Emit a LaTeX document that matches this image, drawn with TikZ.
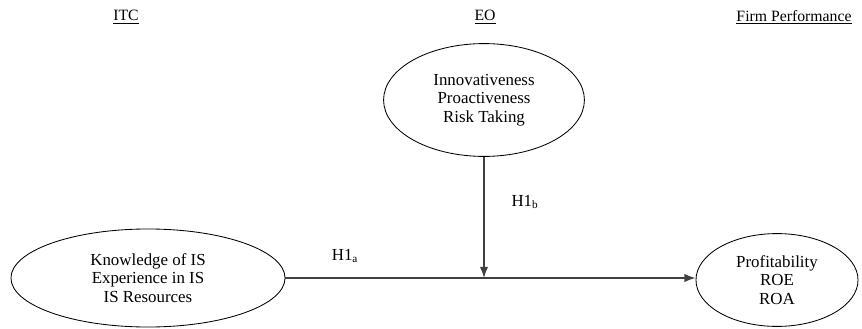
\documentclass[tikz,border=0pt]{standalone}
\usepackage{fontspec}
\setmainfont{Liberation Serif}
\usetikzlibrary{shapes.geometric,arrows.meta}

\tikzset{
    construct/.style={ellipse, draw=black, line width=0.6pt, align=center, inner sep=0pt, font=\fontsize{12}{13}\selectfont},
    heading/.style={font=\fontsize{11.2}{13}\selectfont},
    link/.style={draw=black!75, line width=1pt, -{Latex[length=8pt,width=6pt]}},
}

\begin{document}
\begin{tikzpicture}[x=0.025cm, y=-0.025cm]
    \useasboundingbox (0,0) rectangle (862,329);
    % headings
    \node[heading] at (126,17) (itc) {\underline{ITC}};
    \node[heading] at (485,17) (eo) {\underline{EO}};
    \node[heading] at (794,17) (perf) {\underline{Firm Performance}};
    % constructs
    \node[construct, minimum width=6.85cm, minimum height=2.45cm] at (148,278) (know) {Knowledge of IS\\Experience in IS\\IS Resources};
    \node[construct, minimum width=5.02cm, minimum height=2.82cm] at (484,100) (orient) {Innovativeness\\Proactiveness\\Risk Taking};
    \node[construct, minimum width=4.05cm, minimum height=2.32cm] at (777,280) (profit) {Profitability\\ROE\\ROA};
    % paths
    \coordinate (meet) at (orient.south |- know.east);
    \draw[link] (know.east) -- (know.east -| profit.west);
    \draw[link] (orient.south) -- (meet);
    \node[font=\fontsize{12}{13}\selectfont] at (345,256) (hla) {H1\textsubscript{a}};
    \node[font=\fontsize{12}{13}\selectfont] at (525,202) (hlb) {H1\textsubscript{b}};
\end{tikzpicture}
\end{document}
